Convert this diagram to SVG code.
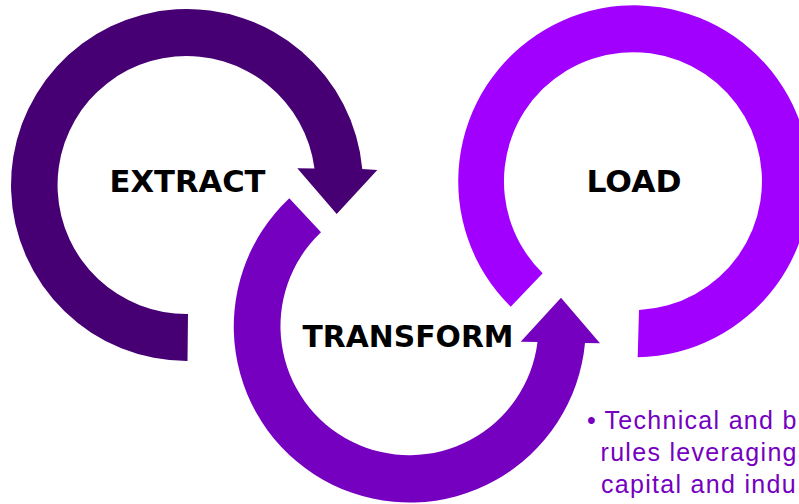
<svg xmlns="http://www.w3.org/2000/svg" width="799" height="504" viewBox="0 0 799 504">
  <style>
    .title { font-family: "DejaVu Sans", "Liberation Sans", Arial, sans-serif; font-weight: bold; font-size: 30.5px; fill: #000000; }
    .body { font-family: "Liberation Sans", Arial, sans-serif; font-size: 25px; fill: #7500C0; letter-spacing: 1.3px; }
  </style>
  <rect width="799" height="504" fill="#ffffff"/>
  <g id="extract">
    <path fill="#460073" d="M187.5,361 A176,176 0 1 1 362.3,169 L377.3,170 L336.7,214 L297.3,168.3 L314.5,168.5 A129,129 0 1 0 188,314 Z"/>
    <text class="title" x="109.5" y="192" textLength="156" lengthAdjust="spacingAndGlyphs">EXTRACT</text>
  </g>
  <g id="transform">
    <path fill="#7500C0" d="M289.3,198.3 A176,176 0 1 0 585,343 L600,343.3 L561,297.7 L520.7,341.7 L537.5,342 A129,129 0 1 1 321,232.3 Z"/>
    <text class="title" x="302.5" y="347" textLength="211" lengthAdjust="spacingAndGlyphs">TRANSFORM</text>
  </g>
  <g id="load">
    <path fill="#A100FF" d="M510.7,306.7 A176,176 0 1 1 637.7,357.3 L639,310 A129,129 0 1 0 542.7,273.3 Z"/>
    <text class="title" x="586.5" y="192" textLength="95" lengthAdjust="spacingAndGlyphs">LOAD</text>
  </g>
  <g id="connectors"></g>
  <g id="notes">
    <text class="body" y="429"><tspan x="587">•</tspan><tspan x="604.5">Technical and b</tspan></text>
    <text class="body" x="600.5" y="461">rules leveraging</text>
    <text class="body" x="601" y="493">capital and indu</text>
  </g>
</svg>
